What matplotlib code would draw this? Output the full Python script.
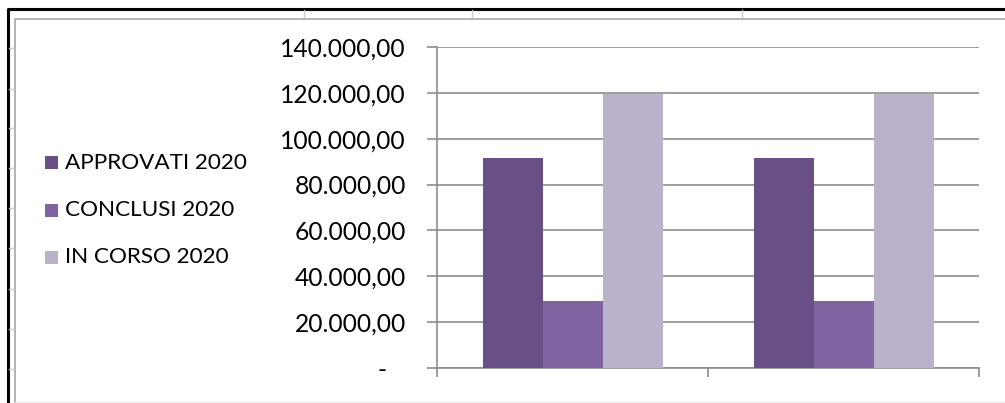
import matplotlib
matplotlib.use("Agg")
import matplotlib.pyplot as plt
from matplotlib.patches import Rectangle
from matplotlib.lines import Line2D
import numpy as np

categories = ["1", "2"]
series_names = ["APPROVATI 2020", "CONCLUSI 2020", "IN CORSO 2020"]
approvati = [91800, 91800]
conclusi = [29200, 29200]
in_corso = [119600, 119600]
series_values = [approvati, conclusi, in_corso]
colors = ["#684F86", "#8064A2", "#BAB1CB"]
yticks = [0, 20000, 40000, 60000, 80000, 100000, 120000, 140000]
ytick_labels = ["-   ", "20.000,00", "40.000,00", "60.000,00", "80.000,00",
                "100.000,00", "120.000,00", "140.000,00"]

plt.rcParams['font.family'] = ['Lato', 'DejaVu Sans']

W, H = 1005, 403
fig = plt.figure(figsize=(W / 100, H / 100), dpi=100)
fig.patch.set_facecolor("white")

ax = fig.add_axes([437 / W, 1 - 368 / H, (979 - 437) / W, (368 - 47) / H])
ax.set_xlim(-0.5, len(categories) - 0.5)
ax.set_ylim(0, 140000)

grid_c = "#8C8C8C"
ax.set_yticks(yticks)
ax.set_yticklabels(ytick_labels, fontsize=17.7, color="black")
ax.yaxis.grid(True, color=grid_c, linewidth=1.2)
ax.set_axisbelow(True)
ax.set_xticks(np.arange(len(categories) + 1) - 0.5)
ax.set_xticklabels([])
for s in ["top", "right"]:
    ax.spines[s].set_visible(False)
for s in ["left", "bottom"]:
    ax.spines[s].set_color(grid_c)
    ax.spines[s].set_linewidth(1.2)
ax.tick_params(axis="y", length=7.2, width=1.2, color=grid_c, pad=15.3)
ax.tick_params(axis="x", length=6.5, width=1.2, color=grid_c)

bw = 60 / 271
x = np.arange(len(categories))
for i, (vals, c) in enumerate(zip(series_values, colors)):
    ax.bar(x + (i - 1) * bw, vals, width=bw, color=c, zorder=3)

# legend
leg_y = [163, 210, 257]
for name, c, yy in zip(series_names, colors, leg_y):
    fig.patches.append(Rectangle((45 / W, 1 - (yy + 6.5) / H), 13 / W, 13 / H,
                                 transform=fig.transFigure, facecolor=c,
                                 edgecolor="none"))
    fig.text(65 / W, 1 - yy / H, name, fontsize=16.2, va="center", ha="left")

# frames
fig.lines.append(Line2D([15 / W, 15 / W, 1.0], [1 - 402 / H, 1 - 19 / H, 1 - 19 / H],
                        transform=fig.transFigure, color="#A6A6A6", linewidth=1.2))
fig.lines.append(Line2D([15 / W, 1.0], [1 - 402 / H, 1 - 402 / H],
                        transform=fig.transFigure, color="#E8E8E8", linewidth=1.0))
fig.lines.append(Line2D([8 / W, 8 / W, 1.0], [0, 1 - 9 / H, 1 - 9 / H],
                        transform=fig.transFigure, color="black", linewidth=2.2))
for xx in [304, 472, 742]:
    fig.lines.append(Line2D([xx / W, xx / W], [1 - 10 / H, 1 - 18 / H],
                            transform=fig.transFigure, color="#C8C8C8", linewidth=1.0))
for yy in [48, 89, 128, 168, 208, 248, 289, 329, 369]:
    fig.lines.append(Line2D([9 / W, 14 / W], [1 - yy / H, 1 - yy / H],
                            transform=fig.transFigure, color="#C8C8C8", linewidth=1.0))

fig.savefig("out.png", dpi=100)
